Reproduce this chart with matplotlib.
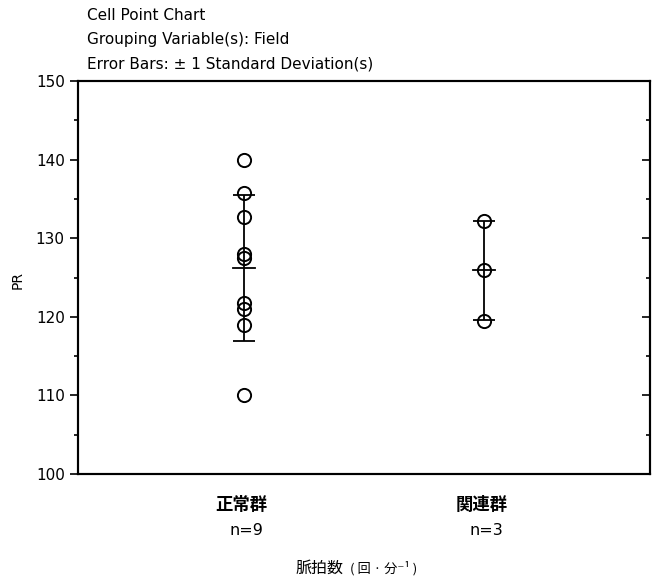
import numpy as np
import matplotlib
matplotlib.use("Agg")
import matplotlib.pyplot as plt
from matplotlib.ticker import MultipleLocator

plt.rcParams['font.family'] = ['DejaVu Sans', 'Noto Sans CJK JP']

groups = ['正常群', '関連群']
counts = ['n=9', 'n=3']
normal_pr = [140, 135.7, 132.7, 128, 127.5, 121.8, 121, 119, 110]
related_pr = [132.2, 126, 119.5]
titles = ['Cell Point Chart', 'Grouping Variable(s): Field',
          'Error Bars: ± 1 Standard Deviation(s)']

fig = plt.figure(figsize=(6.53, 5.83), dpi=100)
ax = fig.add_axes([78/653, 1-474/583, 572/653, 393/583])

for i, vals in enumerate([normal_pr, related_pr]):
    x = i + 1
    v = np.array(vals)
    m = v.mean()
    sd = v.std(ddof=1)
    ax.plot(np.full(len(v), x), v, 'o', mfc='none', mec='black', ms=9.5, mew=1.4)
    ax.errorbar([x], [m], yerr=[sd], fmt='none', ecolor='black',
                elinewidth=1.3, capsize=8, capthick=1.3)
    ax.plot([x - 0.047, x + 0.047], [m, m], color='black', lw=1.3)

ax.set_xlim(0.31, 2.69)
ax.set_ylim(100, 150)
ax.yaxis.set_major_locator(MultipleLocator(10))
ax.yaxis.set_minor_locator(MultipleLocator(5))
ax.tick_params(axis='y', which='both', direction='out', labelsize=11, width=1.2)
ax.tick_params(axis='y', which='major', length=6)
ax.tick_params(axis='y', which='minor', length=3)
ax.set_xticks([])
for s in ax.spines.values():
    s.set_linewidth(1.5)

# inward ticks on the right frame
ax2 = ax.twinx()
ax2.set_ylim(100, 150)
ax2.yaxis.set_major_locator(MultipleLocator(10))
ax2.yaxis.set_minor_locator(MultipleLocator(5))
ax2.tick_params(axis='y', which='both', direction='in', labelright=False, width=1.2)
ax2.tick_params(axis='y', which='major', length=6)
ax2.tick_params(axis='y', which='minor', length=3)
for s in ax2.spines.values():
    s.set_linewidth(1.5)

fig.text(18/653, 1-280/583, 'PR', rotation=90, ha='center', va='center', fontsize=10)

for i, (g, c) in enumerate(zip(groups, counts)):
    ax.text(i + 0.99, 96.1, g, ha='center', va='center', fontsize=12.5,
            fontweight='bold', family=['Noto Sans CJK JP'])
    ax.text(i + 1.01, 92.8, c, ha='center', va='center', fontsize=11.5)

fig.text(295/653, 1-568/583, '脈拍数', ha='left', va='center',
         fontsize=11.5, family=['Noto Sans CJK JP'])
fig.text(350/653, 1-568/583, '( 回 · 分⁻¹ )', ha='left', va='center',
         fontsize=9.5, family=['Noto Sans CJK JP', 'DejaVu Sans'])

for k, t in enumerate(titles):
    fig.text(87/653, 1-(15 + k*24.5)/583, t, ha='left', va='center', fontsize=11)

fig.savefig('out.png', dpi=100)
